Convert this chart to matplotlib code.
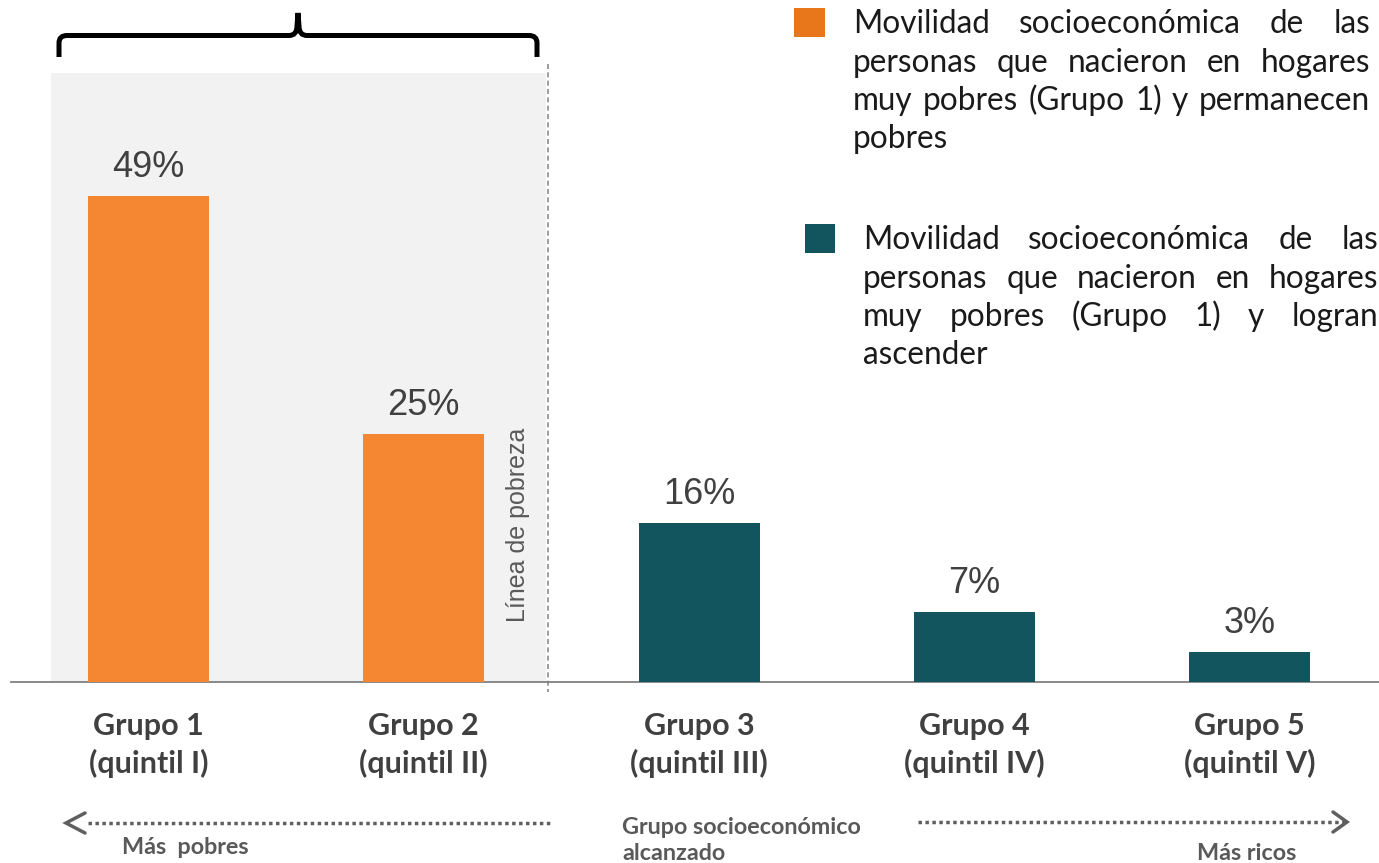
import matplotlib
matplotlib.use("Agg")
import matplotlib.pyplot as plt
from matplotlib.path import Path
from matplotlib.patches import PathPatch, Rectangle

# ---------------- data ----------------
groups = ["Grupo 1", "Grupo 2", "Grupo 3", "Grupo 4", "Grupo 5"]
quintiles = ["(quintil I)", "(quintil II)", "(quintil III)", "(quintil IV)", "(quintil V)"]
values = [49, 25, 16, 7, 3]
stays_poor = [True, True, False, False, False]

legend_poor = ["Movilidad socioeconómica de las",
               "personas que nacieron en hogares",
               "muy pobres (Grupo 1) y permanecen",
               "pobres"]
legend_up = ["Movilidad socioeconómica de las",
             "personas que nacieron en hogares",
             "muy pobres (Grupo 1) y logran",
             "ascender"]

ORANGE = "#F58733"
ORANGE_SQ = "#E8761A"
TEAL = "#13555E"
GRAY_TXT = "#595959"
DARK = "#404040"

W, H = 1379, 863
fig = plt.figure(figsize=(W / 100, H / 100), dpi=100)

# pixel overlay axes (for annotations), behind the data axes
pax = fig.add_axes([0, 0, 1, 1], zorder=0)
pax.set_xlim(0, W)
pax.set_ylim(H, 0)
pax.axis("off")

# data axes
ax = fig.add_axes([0, 0, 1, 1], zorder=1)
ax.patch.set_alpha(0)
base_px = 681.5
px_per_unit = 9.9
x0_px, step_px = 148.5, 275.25
ax.set_xlim(-x0_px / step_px, (W - x0_px) / step_px)
ax.set_ylim(-(H - base_px) / px_per_unit, base_px / px_per_unit)
ax.axis("off")

# shaded "poor" region and poverty line
pax.add_patch(Rectangle((51, 73), 495, base_px - 73, facecolor="#F2F2F2",
                        edgecolor="none", zorder=0))
pax.plot([548, 548], [64, 692], color="#8C8C8C", lw=1.2, ls=(0, (3, 2)), zorder=1)
pax.text(518, 524.5, "Línea de pobreza", rotation=90, ha="center", va="center",
         fontsize=18, color=GRAY_TXT, family="Liberation Sans")

# baseline
ax.axhline(0, xmin=11 / W, xmax=1, color="#808080", lw=1.3, zorder=2)

# bars
xs = list(range(len(values)))
colors = [ORANGE if p else TEAL for p in stays_poor]
ax.bar(xs, values, width=121 / step_px, color=colors, zorder=3)

for x, v in zip(xs, values):
    ax.annotate(f"{v}%", (x, v), xytext=(0, 13.7), textcoords="offset points",
                ha="center", va="baseline", fontsize=26, color=DARK,
                family="Liberation Sans")

# group labels
tr = ax.get_xaxis_transform()
for x, g, q in zip(xs, groups, quintiles):
    ax.text(x, 1 - 735 / H, g, transform=tr, ha="center", va="baseline",
            fontsize=22, fontweight="bold", color=DARK, family="Lato")
    ax.text(x, 1 - 773 / H, q, transform=tr, ha="center", va="baseline",
            fontsize=22, fontweight="bold", color=DARK, family="Lato")

# brace
verts = [(59, 57), (59, 43), (59, 35.5), (67, 35.5), (289, 35.5), (297, 35.5),
         (297, 26), (298, 13), (299, 26), (299, 35.5), (307, 35.5), (529, 35.5),
         (537, 35.5), (537, 43), (537, 57)]
codes = [Path.MOVETO, Path.LINETO, Path.CURVE3, Path.CURVE3, Path.LINETO,
         Path.CURVE3, Path.CURVE3, Path.LINETO, Path.LINETO, Path.CURVE3,
         Path.CURVE3, Path.LINETO, Path.CURVE3, Path.CURVE3, Path.LINETO]
pax.add_patch(PathPatch(Path(verts, codes), facecolor="none", edgecolor="black",
                        lw=3.6, capstyle="butt", joinstyle="miter"))

# justified legend text
renderer = fig.canvas.get_renderer()


def justified(lines, x_left, x_right, baselines, **kw):
    for line, yb in zip(lines, baselines):
        words = line.split()
        last = line is lines[-1]
        if last or len(words) == 1:
            pax.text(x_left, yb, line, ha="left", va="baseline", **kw)
            continue
        objs = [pax.text(0, yb, w, ha="left", va="baseline", **kw) for w in words]
        widths = [o.get_window_extent(renderer).width for o in objs]
        gap = (x_right - x_left - sum(widths)) / (len(words) - 1)
        x = x_left
        for o, wd in zip(objs, widths):
            o.set_x(x)
            x += wd + gap


leg_kw = dict(fontsize=22.7, color="#1A1A1A", family="Lato")
pax.add_patch(Rectangle((794, 8), 31, 29, facecolor=ORANGE_SQ, edgecolor="none"))
justified(legend_poor, 853, 1370, [33, 72, 110, 148], **leg_kw)
pax.add_patch(Rectangle((805, 224), 30, 29, facecolor=TEAL, edgecolor="none"))
justified(legend_up, 863, 1378, [249, 288, 326, 364], **leg_kw)

# bottom arrows and captions
arr_kw = dict(color="#5F5F5F", lw=2.5)
pax.plot([88, 552], [823, 823], ls=(0, (1, 1)), solid_capstyle="butt", **arr_kw)
pax.plot([85, 66, 85], [813, 823, 833], solid_capstyle="round",
         solid_joinstyle="miter", **arr_kw)
pax.plot([918, 1345], [822, 822], ls=(0, (1, 1)), solid_capstyle="butt", **arr_kw)
pax.plot([1333, 1347, 1333], [812, 822, 832], solid_capstyle="round",
         solid_joinstyle="miter", **arr_kw)

cap_kw = dict(fontsize=16.8, fontweight="bold", color=GRAY_TXT, family="Lato",
              va="baseline", ha="left")
pax.text(122, 854, "Más  pobres", **cap_kw)
pax.text(622, 834, "Grupo socioeconómico", **cap_kw)
pax.text(622, 860, "alcanzado", **cap_kw)
pax.text(1197, 860, "Más ricos", **cap_kw)

fig.savefig("out.png", dpi=100)
